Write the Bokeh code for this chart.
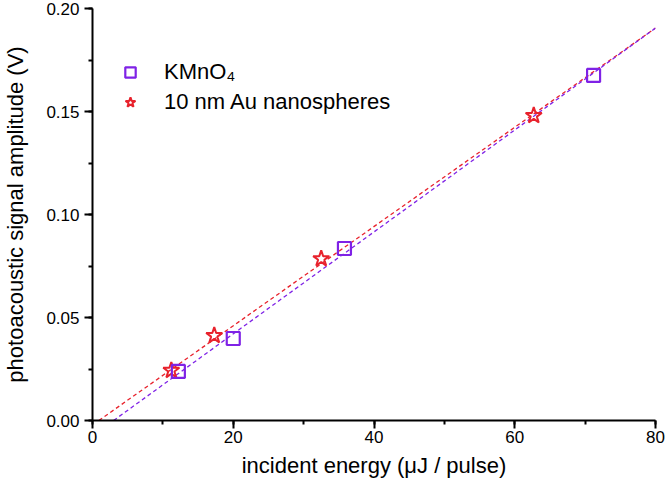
from bokeh.plotting import figure
from bokeh.models import Range1d, SingleIntervalTicker, NumeralTickFormatter, Legend, LegendItem
from bokeh.embed import file_html
from bokeh.resources import INLINE

# data
kmno4_x = [12.2, 20.0, 35.8, 71.2]
kmno4_y = [0.0238, 0.0398, 0.0835, 0.1675]
au_x = [11.2, 17.3, 32.5, 62.7]
au_y = [0.0243, 0.0412, 0.0785, 0.1480]
kmno4_fit_x = [3.0, 80.0]
kmno4_fit_y = [0.0, 0.1905]
au_fit_x = [0.9, 80.0]
au_fit_y = [0.0, 0.1905]

PURPLE = "#7F22E6"
RED = "#E8222C"
FONT = "Liberation Sans"

p = figure(width=666, height=483, output_backend="svg", toolbar_location=None,
           x_range=Range1d(0, 80), y_range=Range1d(0, 0.2),
           min_border_left=90, min_border_right=11, min_border_top=8, min_border_bottom=63)
p.outline_line_color = None
p.grid.visible = False
p.background_fill_color = "white"

r_au_fit = p.line(au_fit_x, au_fit_y, line_color=RED, line_dash="4 3", line_width=1.3)
r_k_fit = p.line(kmno4_fit_x, kmno4_fit_y, line_color=PURPLE, line_dash="4 3", line_width=1.3)
r_au = p.scatter(au_x, au_y, marker="star", size=17, fill_color="white", fill_alpha=0.0,
                 line_color=RED, line_width=2)
r_k = p.scatter(kmno4_x, kmno4_y, marker="square", size=13, fill_color="white", fill_alpha=0.0,
                line_color=PURPLE, line_width=2.2)

p.xaxis.ticker = SingleIntervalTicker(interval=20, num_minor_ticks=2)
p.yaxis.ticker = SingleIntervalTicker(interval=0.05, num_minor_ticks=2)
p.yaxis.formatter = NumeralTickFormatter(format="0.00")

for ax in (p.xaxis[0], p.yaxis[0]):
    ax.axis_line_width = 2
    ax.axis_line_color = "black"
    ax.major_tick_line_width = 2
    ax.minor_tick_line_width = 2
    ax.major_tick_out = 8
    ax.major_tick_in = 0
    ax.minor_tick_out = 4
    ax.minor_tick_in = 0
    ax.major_label_text_font = FONT
    ax.major_label_text_font_size = "17px"
    ax.major_label_text_color = "black"
    ax.axis_label_text_font = FONT
    ax.axis_label_text_font_size = "22px"
    ax.axis_label_text_font_style = "normal"
    ax.axis_label_text_color = "black"

p.xaxis.axis_label = "incident energy (μJ / pulse)"
p.yaxis.axis_label = "photoacoustic signal amplitude (V)"
p.xaxis.major_label_standoff = 2
p.yaxis.major_label_standoff = 5
p.xaxis.axis_label_standoff = 7
p.yaxis.axis_label_standoff = 15

legend = Legend(items=[LegendItem(label="KMnO₄", renderers=[r_k]),
                       LegendItem(label="10 nm Au nanospheres", renderers=[r_au])],
                location=(25, 305), margin=0, padding=10, spacing=4,
                glyph_width=26, glyph_height=26, label_height=20, label_standoff=21,
                label_text_font=FONT, label_text_font_size="22px", label_text_color="black",
                border_line_color=None, background_fill_alpha=0.0)
p.add_layout(legend)

open("out.html", "w").write(file_html(p, INLINE))
